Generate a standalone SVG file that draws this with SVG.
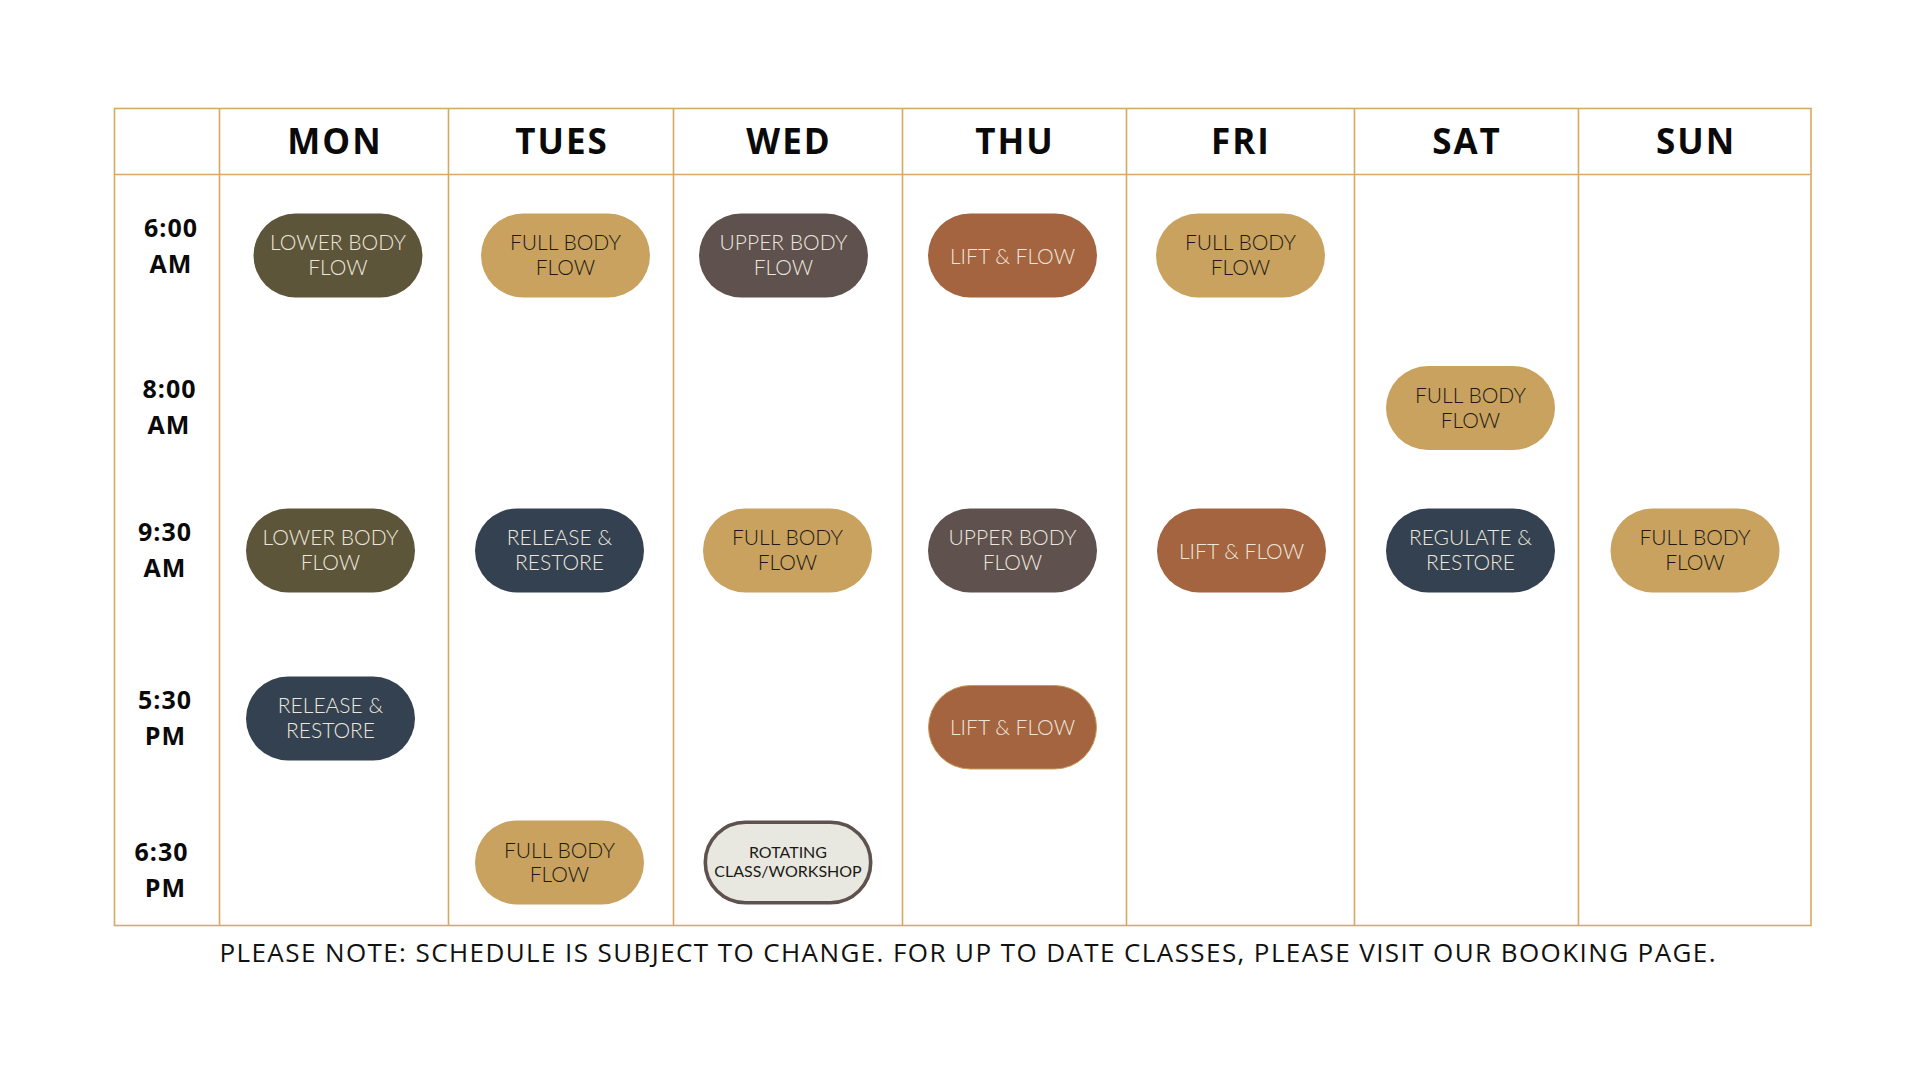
<svg xmlns="http://www.w3.org/2000/svg" width="1920" height="1080" viewBox="0 0 1920 1080">
<style>
.grid{stroke:#d5aa63;stroke-width:1.6;fill:none}
.day{font-family:"Open Sans","Liberation Sans",sans-serif;font-weight:700;font-size:35px;fill:#0a0a0a;text-anchor:middle;letter-spacing:2px}
.time{font-family:"Open Sans","Liberation Sans",sans-serif;font-weight:700;font-size:25px;fill:#0a0a0a;text-anchor:middle;letter-spacing:1px}
.pt{font-family:Lato,"Open Sans",sans-serif;font-weight:300;font-size:21px;text-anchor:middle}
.lt{fill:#ece6dc}
.dk{fill:#1c1a16}
.olive{fill:#5c5539}
.gold{fill:#c9a25f}
.mauve{fill:#5e514e}
.rust{fill:#a3643f}
.navy{fill:#344150}
.note{font-family:"Open Sans","Liberation Sans",sans-serif;font-weight:400;font-size:26px;fill:#111}
</style>
<rect width="1920" height="1080" fill="#ffffff"/>
<g id="grid">
<rect class="grid" x="114.5" y="108.5" width="1696.5" height="817"/>
<line class="grid" x1="114.5" y1="174.5" x2="1811" y2="174.5"/>
<line class="grid" x1="219.5" y1="108.5" x2="219.5" y2="925.5"/>
<line class="grid" x1="448.5" y1="108.5" x2="448.5" y2="925.5"/>
<line class="grid" x1="673.5" y1="108.5" x2="673.5" y2="925.5"/>
<line class="grid" x1="902.5" y1="108.5" x2="902.5" y2="925.5"/>
<line class="grid" x1="1126.5" y1="108.5" x2="1126.5" y2="925.5"/>
<line class="grid" x1="1354.5" y1="108.5" x2="1354.5" y2="925.5"/>
<line class="grid" x1="1578.5" y1="108.5" x2="1578.5" y2="925.5"/>
</g>
<g id="headers">
<text class="day" x="335" y="153.5">MON</text>
<text class="day" x="562" y="153.5">TUES</text>
<text class="day" x="789" y="153.5">WED</text>
<text class="day" x="1015" y="153.5">THU</text>
<text class="day" x="1241" y="153.5">FRI</text>
<text class="day" x="1467" y="153.5">SAT</text>
<text class="day" x="1696" y="153.5">SUN</text>
</g>
<g id="times">
<text class="time" x="171" y="236.5">6:00</text><text class="time" x="171" y="273">AM</text>
<text class="time" x="169.5" y="397.5">8:00</text><text class="time" x="169" y="434">AM</text>
<text class="time" x="165" y="541">9:30</text><text class="time" x="165" y="577">AM</text>
<text class="time" x="165" y="709">5:30</text><text class="time" x="165.5" y="744.5">PM</text>
<text class="time" x="161.5" y="860.5">6:30</text><text class="time" x="165.5" y="896.5">PM</text>
</g>
<g id="mon-600"><rect class="olive" x="253.5" y="213.5" width="169" height="84" rx="42"/><text class="pt lt" x="338" y="250">LOWER BODY</text><text class="pt lt" x="338" y="275">FLOW</text></g>
<g id="tue-600"><rect class="gold" x="481" y="213.5" width="169" height="84" rx="42"/><text class="pt dk" x="565.5" y="250">FULL BODY</text><text class="pt dk" x="565.5" y="275">FLOW</text></g>
<g id="wed-600"><rect class="mauve" x="699" y="213.5" width="169" height="84" rx="42"/><text class="pt lt" x="783.5" y="250">UPPER BODY</text><text class="pt lt" x="783.5" y="275">FLOW</text></g>
<g id="thu-600"><rect class="rust" x="928" y="213.5" width="169" height="84" rx="42"/><text class="pt lt" x="1012.5" y="263.5">LIFT &amp; FLOW</text></g>
<g id="fri-600"><rect class="gold" x="1156" y="213.5" width="169" height="84" rx="42"/><text class="pt dk" x="1240.5" y="250">FULL BODY</text><text class="pt dk" x="1240.5" y="275">FLOW</text></g>
<g id="sat-800"><rect class="gold" x="1386" y="366" width="169" height="84" rx="42"/><text class="pt dk" x="1470.5" y="402.5">FULL BODY</text><text class="pt dk" x="1470.5" y="427.5">FLOW</text></g>
<g id="mon-930"><rect class="olive" x="246" y="508.5" width="169" height="84" rx="42"/><text class="pt lt" x="330.5" y="545">LOWER BODY</text><text class="pt lt" x="330.5" y="570">FLOW</text></g>
<g id="tue-930"><rect class="navy" x="475" y="508.5" width="169" height="84" rx="42"/><text class="pt lt" x="559.5" y="545">RELEASE &amp;</text><text class="pt lt" x="559.5" y="570">RESTORE</text></g>
<g id="wed-930"><rect class="gold" x="703" y="508.5" width="169" height="84" rx="42"/><text class="pt dk" x="787.5" y="545">FULL BODY</text><text class="pt dk" x="787.5" y="570">FLOW</text></g>
<g id="thu-930"><rect class="mauve" x="928" y="508.5" width="169" height="84" rx="42"/><text class="pt lt" x="1012.5" y="545">UPPER BODY</text><text class="pt lt" x="1012.5" y="570">FLOW</text></g>
<g id="fri-930"><rect class="rust" x="1157" y="508.5" width="169" height="84" rx="42"/><text class="pt lt" x="1241.5" y="558.5">LIFT &amp; FLOW</text></g>
<g id="sat-930"><rect class="navy" x="1386" y="508.5" width="169" height="84" rx="42"/><text class="pt lt" x="1470.5" y="545">REGULATE &amp;</text><text class="pt lt" x="1470.5" y="570">RESTORE</text></g>
<g id="sun-930"><rect class="gold" x="1610.5" y="508.5" width="169" height="84" rx="42"/><text class="pt dk" x="1695" y="545">FULL BODY</text><text class="pt dk" x="1695" y="570">FLOW</text></g>
<g id="mon-530"><rect class="navy" x="246" y="676.5" width="169" height="84" rx="42"/><text class="pt lt" x="330.5" y="713">RELEASE &amp;</text><text class="pt lt" x="330.5" y="738">RESTORE</text></g>
<g id="thu-530"><rect class="rust" x="928.5" y="685.5" width="168" height="83.5" rx="41.75" stroke="#c99a5a" stroke-width="1"/><text class="pt lt" x="1012.5" y="735">LIFT &amp; FLOW</text></g>
<g id="tue-630"><rect class="gold" x="475" y="820.5" width="169" height="84" rx="42"/><text class="pt dk" x="559.5" y="857.5">FULL BODY</text><text class="pt dk" x="559.5" y="882">FLOW</text></g>
<g id="wed-630"><rect x="705.3" y="822.3" width="165.4" height="80.4" rx="40.2" fill="#e8e8e0" stroke="#5e514e" stroke-width="3.6"/><text class="pt dk" x="788" y="858.3" style="font-size:16px;font-weight:400">ROTATING</text><text class="pt dk" x="788" y="876.7" style="font-size:16px;font-weight:400">CLASS/WORKSHOP</text></g>
<g id="footer"><text class="note" x="219.5" y="962.3" textLength="1496" lengthAdjust="spacing">PLEASE NOTE: SCHEDULE IS SUBJECT TO CHANGE. FOR UP TO DATE CLASSES, PLEASE VISIT OUR BOOKING PAGE.</text></g>
</svg>
